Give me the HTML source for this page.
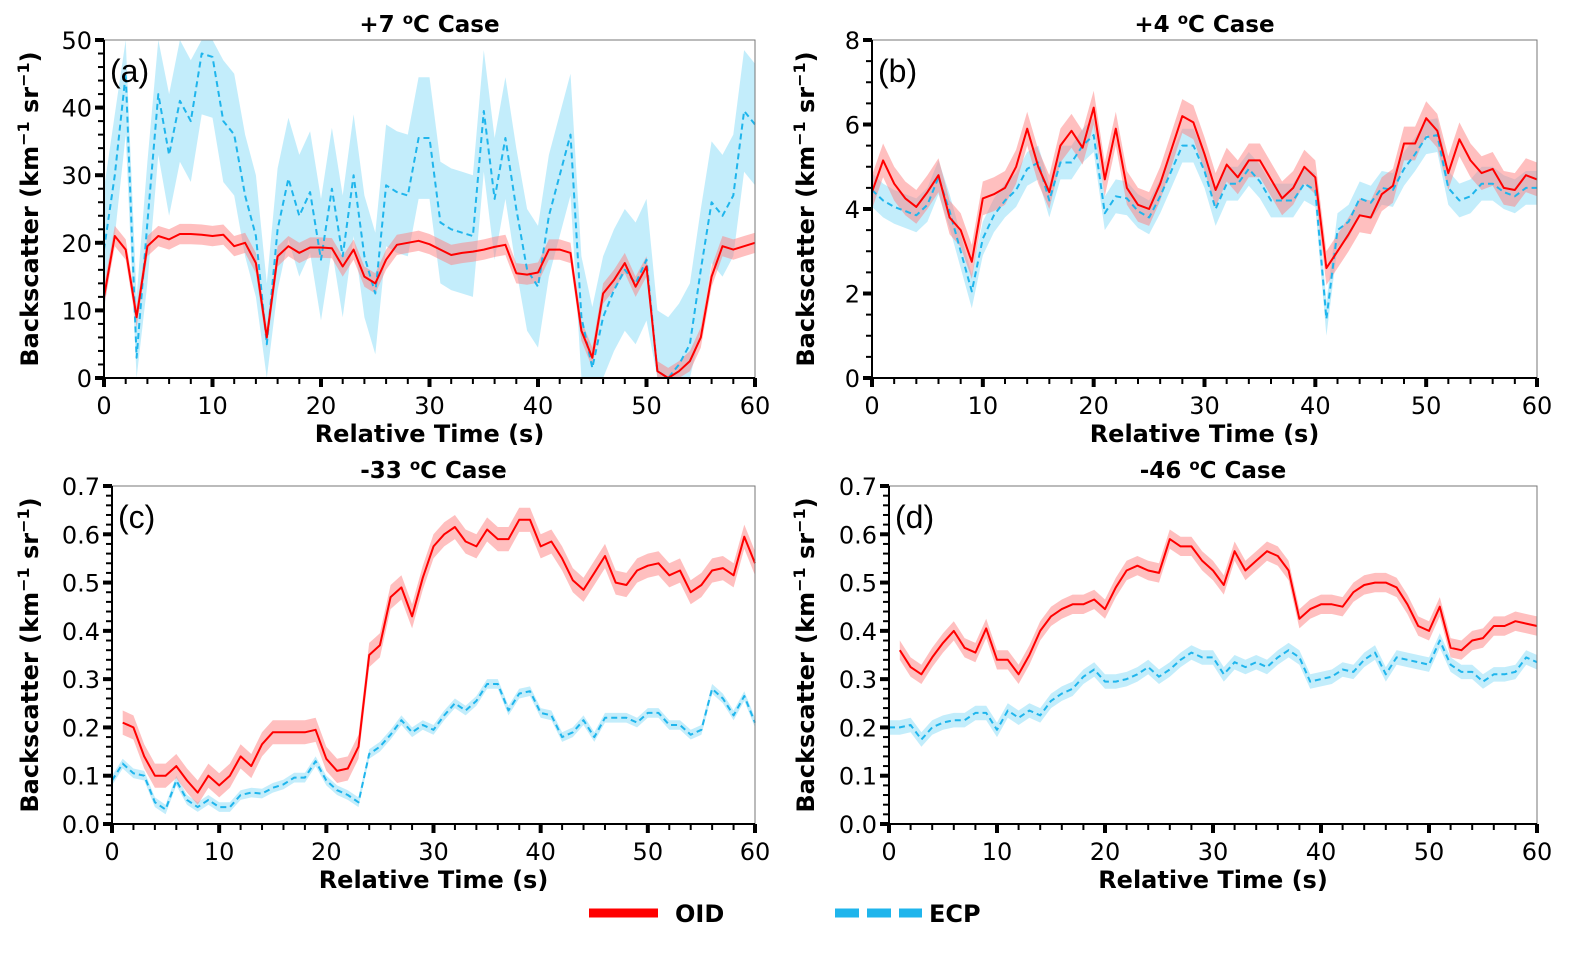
<!DOCTYPE html>
<html><head><meta charset="utf-8"><style>
body{margin:0;background:#fff;}
svg{display:block;font-family:"DejaVu Sans","Liberation Sans",sans-serif;}
</style></head><body>
<svg id="fig" width="1596" height="956" viewBox="0 0 1596 956"></svg>
<script>
// ---- data ----
const timesA = Array.from({length:61},(_, i)=>i);
const oidA = [12,21,19,9,19.5,21,20.5,21.3,21.3,21.2,21,21.2,19.5,20,17,6,18,19.5,18.5,19.3,19.3,19.2,16.5,19,15,14,17.5,19.7,20,20.3,19.8,19,18.2,18.5,18.7,19,19.4,19.7,15.5,15.3,15.6,19,19,18.5,7,3,12.5,14.5,17,13.5,16.5,1,0,1,2.5,6,15,19.5,19,19.5,20];
const ecpA = [19,30,45,3,23,42,33,41,38,48,47.5,38,36,27,21,5,22,29.5,24,27.5,17.5,28,18,30,18,12.5,28.5,27.5,27,35.5,35.5,23,22,21.5,21,39.5,26.5,35.5,25,16,13.5,24,30,36,9,1.5,9,13,16,14,17.5,1,0,2,5,16,26,24,27,39.5,37.5];
const oidB = [4.4,5.15,4.6,4.25,4.05,4.4,4.8,3.8,3.5,2.75,4.25,4.35,4.5,5.0,5.9,5.0,4.4,5.5,5.85,5.45,6.4,4.7,5.9,4.5,4.1,4.0,4.6,5.4,6.2,6.05,5.3,4.45,5.05,4.75,5.15,5.15,4.7,4.25,4.5,5.0,4.75,2.6,3.0,3.4,3.85,3.8,4.35,4.55,5.55,5.55,6.15,5.85,4.85,5.65,5.15,4.85,4.95,4.5,4.45,4.8,4.7];
const ecpB = [4.45,4.2,4.05,3.95,3.85,4.1,4.75,3.95,3.0,2.05,3.3,3.85,4.2,4.45,4.95,5.1,4.2,5.1,5.1,5.5,5.75,3.9,4.3,4.25,3.95,3.8,4.3,4.9,5.5,5.5,4.9,4.0,4.6,4.6,4.95,4.65,4.2,4.2,4.2,4.6,4.45,1.4,3.5,3.7,4.25,4.15,4.5,4.45,4.95,5.3,5.7,5.75,4.5,4.2,4.3,4.6,4.6,4.4,4.3,4.5,4.5];
const oidC = [null,0.21,0.20,0.14,0.10,0.10,0.12,0.09,0.065,0.10,0.08,0.10,0.14,0.12,0.165,0.19,0.19,0.19,0.19,0.195,0.135,0.11,0.115,0.16,0.35,0.37,0.47,0.49,0.43,0.51,0.575,0.60,0.615,0.585,0.575,0.61,0.59,0.59,0.63,0.63,0.575,0.585,0.55,0.505,0.485,0.52,0.555,0.50,0.495,0.525,0.535,0.54,0.515,0.525,0.48,0.495,0.525,0.53,0.515,0.595,0.54];
const ecpC = [0.09,0.125,0.105,0.10,0.045,0.03,0.09,0.05,0.035,0.05,0.035,0.035,0.06,0.065,0.063,0.075,0.082,0.096,0.096,0.13,0.09,0.07,0.06,0.045,0.145,0.16,0.185,0.215,0.19,0.205,0.195,0.225,0.25,0.235,0.255,0.29,0.29,0.235,0.27,0.275,0.23,0.225,0.18,0.19,0.215,0.18,0.22,0.22,0.22,0.21,0.23,0.23,0.205,0.205,0.185,0.195,0.28,0.26,0.225,0.265,0.21];
const oidD = [null,0.36,0.325,0.31,0.345,0.375,0.40,0.365,0.355,0.405,0.34,0.34,0.31,0.35,0.40,0.43,0.445,0.455,0.455,0.465,0.445,0.49,0.525,0.535,0.525,0.52,0.59,0.575,0.575,0.545,0.525,0.495,0.565,0.525,0.545,0.565,0.555,0.525,0.425,0.445,0.455,0.455,0.45,0.48,0.495,0.5,0.5,0.49,0.455,0.41,0.4,0.45,0.365,0.36,0.38,0.385,0.41,0.41,0.42,0.415,0.41];
const ecpD = [0.2,0.2,0.205,0.175,0.2,0.21,0.215,0.215,0.23,0.23,0.195,0.235,0.22,0.235,0.225,0.255,0.27,0.28,0.305,0.32,0.295,0.295,0.30,0.31,0.325,0.305,0.32,0.34,0.355,0.345,0.345,0.31,0.335,0.325,0.335,0.325,0.345,0.36,0.345,0.295,0.30,0.305,0.32,0.315,0.34,0.355,0.31,0.345,0.34,0.335,0.33,0.38,0.33,0.315,0.315,0.295,0.31,0.31,0.315,0.345,0.335];
const spreadA = [1.5, 9];
const spreadB = [0.4, 0.4];
const spreadC = [0.025, 0.01];
const spreadD = [0.02, 0.015];
const xTicks = [0,10,20,30,40,50,60];
const yTicksA = [0,10,20,30,40,50];
const yTicksB = [0,2,4,6,8];
const yTicksCD = ["0.0","0.1","0.2","0.3","0.4","0.5","0.6","0.7"];

const NS="http://www.w3.org/2000/svg";
const svg=document.getElementById('fig');
function el(tag,attrs,parent){const e=document.createElementNS(NS,tag);for(const k in attrs)e.setAttribute(k,attrs[k]);(parent||svg).appendChild(e);return e;}

const panels=[
 {id:'a',x0:104,x1:755,y0:378,y1:40,ymax:50,yt:yTicksA,minor:2,oid:oidA,ecp:ecpA,sp:spreadA,title:'+7 °C Case',ty:24},
 {id:'b',x0:872,x1:1537,y0:378,y1:40,ymax:8,yt:yTicksB,minor:0.5,oid:oidB,ecp:ecpB,sp:spreadB,title:'+4 °C Case',ty:24},
 {id:'c',x0:112,x1:755,y0:824,y1:486,ymax:0.7,yt:yTicksCD,minor:0.02,oid:oidC,ecp:ecpC,sp:spreadC,title:'-33 °C Case',ty:470},
 {id:'d',x0:889,x1:1537,y0:824,y1:486,ymax:0.7,yt:yTicksCD,minor:0.02,oid:oidD,ecp:ecpD,sp:spreadD,title:'-46 °C Case',ty:470}
];

panels.forEach(p=>{
 const g=el('g',{});
 
 
 const X=t=>p.x0+(p.x1-p.x0)*t/60;
 const Y=v=>p.y0-(p.y0-p.y1)*Math.max(0,Math.min(p.ymax,v))/p.ymax;
 const band=(arr,s,color,name)=>{
   const idx=[];arr.forEach((v,i)=>{if(v!==null)idx.push(i);});
   let d='';idx.forEach((i,k)=>{d+=(k?'L':'M')+X(timesA[i]).toFixed(1)+','+Y(arr[i]+s).toFixed(1);});
   idx.slice().reverse().forEach(i=>{d+='L'+X(timesA[i]).toFixed(1)+','+Y(arr[i]-s).toFixed(1);});
   const e=el('path',{d:d+'Z',fill:color,'fill-opacity':0.5,stroke:'none'},g);
   
   
 };
 const line=(arr,color,dash,name)=>{
   let d='';let k=0;arr.forEach((v,i)=>{if(v===null)return;d+=(k++?'L':'M')+X(timesA[i]).toFixed(1)+','+Y(v).toFixed(1);});
   const e=el('path',{d:d,fill:'none',stroke:color,'stroke-width':2,'stroke-dasharray':dash,'stroke-linejoin':'round'},g);
   
   
 };
 band(p.ecp,p.sp[1],'#87dcf7','ecp-band');
 band(p.oid,p.sp[0],'#ff8080','oid-band');
 line(p.ecp,'#1fb5ec','6,4','ecp-line');
 line(p.oid,'#ff0000','none','oid-line');
 const fr=el('rect',{x:p.x0,y:p.y1,width:p.x1-p.x0,height:p.y0-p.y1,fill:'none',stroke:'#777','stroke-width':1},g);
 
 
 el('line',{x1:p.x0,y1:p.y1,x2:p.x0,y2:p.y0,stroke:'#000','stroke-width':2},g);
 el('line',{x1:p.x0,y1:p.y0,x2:p.x1,y2:p.y0,stroke:'#000','stroke-width':2},g);
 for(let t=0;t<=60;t+=2){const maj=t%10===0;el('line',{x1:X(t),y1:p.y0,x2:X(t),y2:p.y0+(maj?9:6),stroke:'#000','stroke-width':maj?4:2},g);}
 xTicks.forEach(t=>{const e=el('text',{x:X(t),y:p.y0+36,'text-anchor':'middle','font-size':24},g);e.textContent=t;
  
  });
 const nMin=Math.round(p.ymax/p.minor);
 for(let i=0;i<=nMin;i++){const v=i*p.minor;const y=Y(v);el('line',{x1:p.x0,y1:y,x2:p.x0-6,y2:y,stroke:'#000','stroke-width':2},g);}
 p.yt.forEach(tv=>{const v=parseFloat(tv);const y=Y(v);el('line',{x1:p.x0,y1:y,x2:p.x0-9,y2:y,stroke:'#000','stroke-width':4},g);
  const e=el('text',{x:p.x0-12,y:y+9,'text-anchor':'end','font-size':24},g);e.textContent=tv;
  
  });
 const xl=el('text',{x:(p.x0+p.x1)/2,y:p.y0+64,'text-anchor':'middle','font-size':24,'font-weight':'bold'},g);
 xl.textContent='Relative Time (s)';
 
 
 const yx=(p.id==='a'||p.id==='c')?38:814;const yc=(p.y0+p.y1)/2;
 const yl=el('text',{x:yx,y:yc,'text-anchor':'middle','font-size':24,'font-weight':'bold',transform:'rotate(-90 '+yx+' '+yc+')'},g);
 yl.innerHTML='Backscatter (km<tspan dy="-9" font-size="16">−1</tspan><tspan dy="9"> sr</tspan><tspan dy="-9" font-size="16">−1</tspan><tspan dy="9">)</tspan>';
 
 
 const tt=el('text',{x:(p.x0+p.x1)/2,y:p.ty+8,'text-anchor':'middle','font-size':23,'font-weight':'bold'},g);
 const parts=p.title.split('°');
 tt.innerHTML=parts[0]+'<tspan dy="-8" font-size="15">o</tspan><tspan dy="8">'+parts[1]+'</tspan>';
 
 
 const pl=el('text',{x:p.x0+6,y:p.y1+42,'font-size':32,'font-family':'Liberation Sans, sans-serif'},g);
 pl.textContent='('+p.id+')';
 
 
});

const lg=el('g',{});


const l1=el('line',{x1:589,y1:913,x2:658,y2:913,stroke:'#ff0000','stroke-width':9},lg);


const t1=el('text',{x:675,y:922,'font-size':24,'font-weight':'bold'},lg);t1.textContent='OID';


const l2=el('line',{x1:835,y1:913,x2:922,y2:913,stroke:'#1fb5ec','stroke-width':9,'stroke-dasharray':'24,8'},lg);


const t2=el('text',{x:929,y:922,'font-size':24,'font-weight':'bold'},lg);t2.textContent='ECP';


</script>
</body></html>
